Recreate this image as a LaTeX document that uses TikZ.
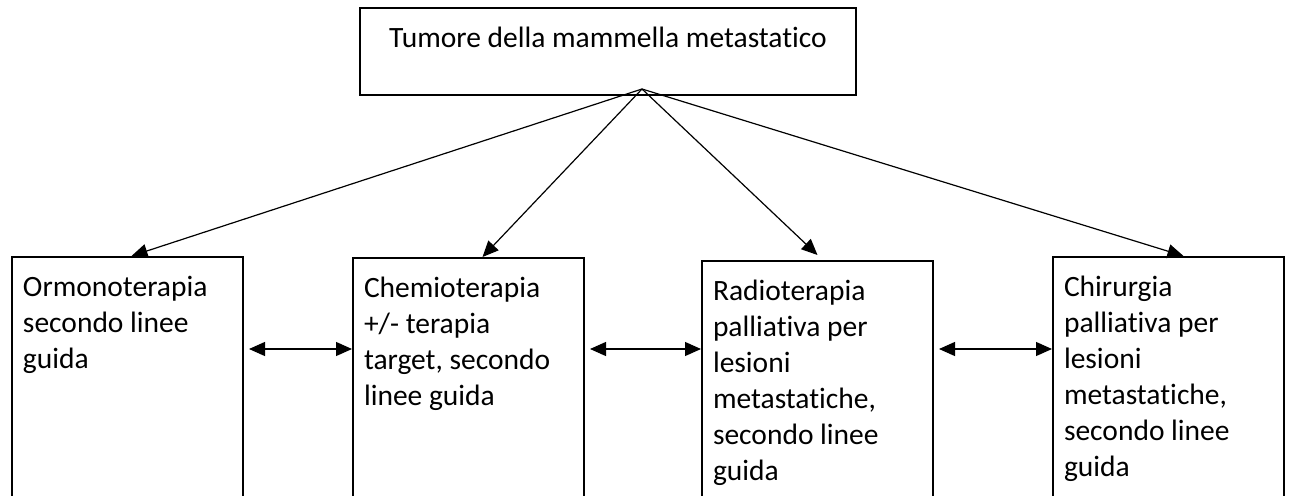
\documentclass[tikz,border=0pt]{standalone}
\usepackage{fontspec}
\setmainfont{Carlito}[Ligatures=NoCommon]
\usetikzlibrary{arrows.meta}
\tikzset{every node/.style={align=flush left}, >={Triangle[length=16pt,width=14pt]}, font=\fontsize{29.5}{36}\selectfont}

\begin{document}
\begin{tikzpicture}[x=1pt, y=-1pt, line width=1.2pt,
    box/.style={draw, line width=2pt, anchor=north west, text width=209pt, inner sep=11pt, text height=28pt, text depth=300pt}]
             \useasboundingbox (0,0) rectangle (1292,495);
             \clip (0,0) rectangle (1292,495);
             \node [box, text width=474pt, align=flush center, text height=29pt, text depth=36pt] (top) at (359,7) {Tumore della mammella metastatico};
             \node [box] (ormo) at (11,256) {Ormonoterapia\\secondo linee\\guida};
             \node [box] (chemio) at (352,257) {Chemioterapia\\+/- terapia\\target, secondo\\linee guida};
             \node [box] (radio) at (701,260) {Radioterapia\\palliativa per\\lesioni\\metastatiche,\\secondo linee\\guida};
             \node [box] (chir) at (1052,256) {Chirurgia\\palliativa per\\lesioni\\metastatiche,\\secondo linee\\guida};
             \coordinate (hub) at (642,89);
             \coordinate (mid) at (0,349);

             \path[->] (hub) edge ([xshift=4pt]ormo.north)
                edge ([xshift=14pt]chemio.north)
                edge ([yshift=5pt]radio.north)
                edge ([xshift=15pt]chir.north);
             \path[<->, shorten <=5pt] (ormo.east |- mid) edge (chemio.west |- mid)
                (chemio.east |- mid) edge (radio.west |- mid)
                (radio.east |- mid) edge (chir.west |- mid);
         \end{tikzpicture}
\end{document}
